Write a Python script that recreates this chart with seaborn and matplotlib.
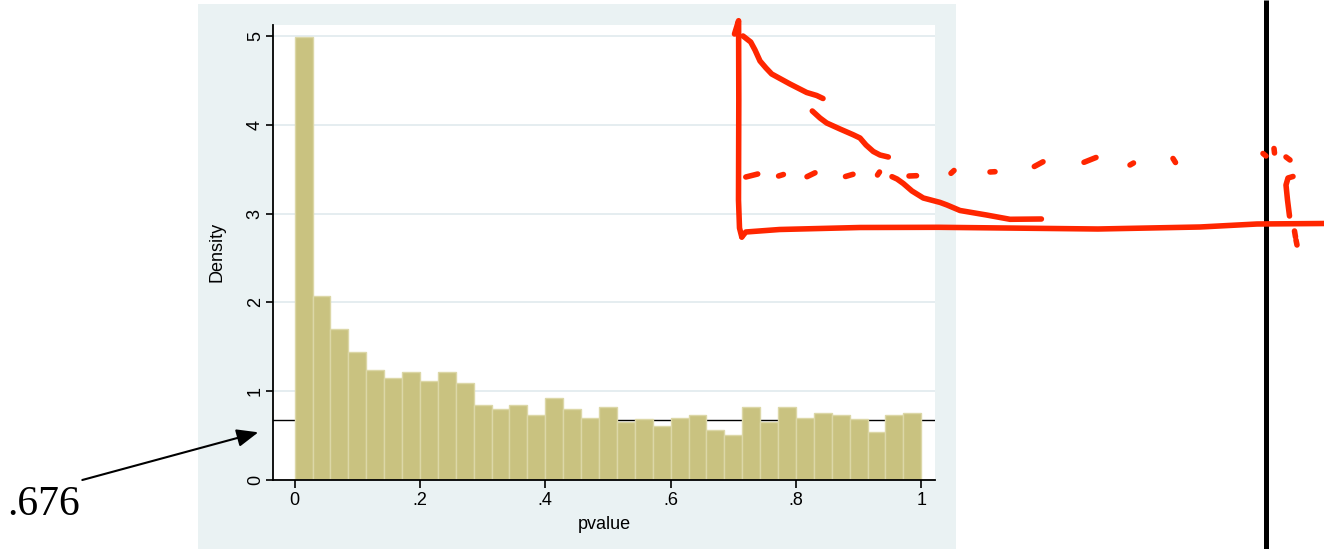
import numpy as np
import pandas as pd
import matplotlib
matplotlib.use('Agg')
import matplotlib.pyplot as plt
import seaborn as sns
from matplotlib.patches import Rectangle

# ---------------- data ----------------
density = [4.99, 2.07, 1.70, 1.44, 1.24, 1.15, 1.21, 1.11, 1.21, 1.09,
           0.845, 0.80, 0.845, 0.73, 0.92, 0.80, 0.69, 0.82,
           0.645, 0.68, 0.60, 0.69, 0.73, 0.56, 0.50, 0.82, 0.645, 0.82,
           0.69, 0.75, 0.73, 0.68, 0.54, 0.73, 0.75]
n_bins = 35
ref_value = 0.676
ref_label = '.676'
x_ticks = [0, 0.2, 0.4, 0.6, 0.8, 1.0]
x_ticklabels = ['0', '.2', '.4', '.6', '.8', '1']
y_ticks = [0, 1, 2, 3, 4, 5]
y_ticklabels = ['0', '1', '2', '3', '4', '5']
x_label = 'pvalue'
y_label = 'Density'

# hand-drawn annotation strokes (figure pixel coords, origin top-left)
red_axis_v = [(734.5, 34), (738.6, 20.7), (738.8, 100), (738.5, 200), (739.5, 228), (741.8, 237)]
red_axis_h = [(741.8, 237), (745.8, 232), (779.6, 229.5), (860, 227.5), (938.8, 227.3),
              (1097.9, 229), (1200, 227), (1257, 224), (1324, 223.5)]
red_curve1 = [(743, 36), (750.7, 42), (755, 50), (760, 61), (766, 68), (771.7, 74),
              (790, 84), (806.7, 92.5), (816.7, 95.5), (823, 98.5)]
red_curve2 = [(812.3, 111), (820, 118), (826.7, 123), (840, 129), (853.3, 134.8),
              (860, 138), (866, 145), (873.3, 151.5), (880, 155), (888.3, 157)]
red_curve3 = [(892, 176.7), (897, 179), (903.3, 183.5), (912, 191), (923.3, 198),
              (940, 202.4), (947, 205), (960, 210.5), (986.5, 215), (1010, 219.3), (1041.4, 219)]
red_dashes = [
    [(745.8, 177), (757.7, 174)],
    [(778.6, 176), (783.4, 174.5)],
    [(807, 176.7), (815, 172.8)],
    [(845.5, 176.5), (853, 174.3)],
    [(877.5, 175), (879.5, 172)],
    [(909, 176), (916.5, 175.7)],
    [(951, 173.3), (954, 170.5)],
    [(990, 172), (995, 171.7)],
    [(1034.3, 166.5), (1043, 161.8)],
    [(1084, 162.3), (1096, 157.5)],
    [(1130, 165), (1133.5, 163)],
    [(1173, 158.5), (1175.5, 162.5)],
    [(1263, 153.5), (1266, 156)],
    [(1274, 148.5), (1274.5, 153)],
    [(1286, 157), (1290, 160)],
    [(1293, 176.5), (1288, 178), (1286, 185), (1287.5, 200), (1289.5, 216)],
    [(1294.5, 231), (1295.5, 237)],
    [(1296, 240), (1297, 245)],
]
black_vline_x = 1265.8
arrow_start = (82.3, 480)
arrow_end = (258.3, 432.3)

# ---------------- style ----------------
sns.set_style('white')
plt.rcParams['font.family'] = ['Liberation Sans', 'DejaVu Sans']

W, H = 1324, 549
fig = plt.figure(figsize=(W / 100, H / 100), dpi=100)
fig.patch.set_facecolor('white')

panel = Rectangle((198 / W, 0), (956 - 198) / W, (H - 4) / H, transform=fig.transFigure,
                  facecolor='#EAF2F3', edgecolor='none', zorder=-10)
fig.add_artist(panel)

ax = fig.add_axes([273 / W, (H - 479.5) / H, 662 / W, 455 / H])
ax.set_facecolor('white')

bin_width = 1.0 / n_bins
centers = [(i + 0.5) * bin_width for i in range(n_bins)]
df = pd.DataFrame({'pvalue': centers, 'density': density})

sns.histplot(data=df, x='pvalue', weights='density', bins=n_bins, binrange=(0, 1),
             stat='count', color='#C9C280', edgecolor='#DCD7A7', linewidth=1.0,
             alpha=1, ax=ax, zorder=2)

ax.axhline(ref_value, color='black', lw=1.0, zorder=1)

ax.set_xlim(-0.0346, 1.022)
ax.set_ylim(0, 5.132)
ax.set_xticks(x_ticks)
ax.set_xticklabels(x_ticklabels)
ax.set_yticks(y_ticks)
ax.set_yticklabels(y_ticklabels, va='center')

ax.yaxis.grid(True, color='#E3ECEF', lw=1.3)
ax.xaxis.grid(False)
ax.set_axisbelow(True)

for s in ['top', 'right']:
    ax.spines[s].set_visible(False)
for s in ['left', 'bottom']:
    ax.spines[s].set_color('black')
    ax.spines[s].set_linewidth(1.3)

ax.tick_params(axis='x', bottom=True, direction='out', length=5.8, width=1.2,
               pad=3.5, labelsize=13, colors='black')
ax.tick_params(axis='y', left=True, direction='out', length=5, width=1.2,
               pad=1.6, labelsize=13, colors='black', labelrotation=90)

ax.set_xlabel(x_label, fontsize=13, color='black')
ax.xaxis.set_label_coords(0.5, -0.0802)
ax.set_ylabel(y_label, fontsize=13, color='black')
ax.yaxis.set_label_coords(-0.071, 0.5)

# ---------------- overlay annotations ----------------
ov = fig.add_axes([0, 0, 1, 1], zorder=10)
ov.set_xlim(0, W)
ov.set_ylim(H, 0)
ov.axis('off')
ov.patch.set_alpha(0)

ov.plot([black_vline_x, black_vline_x], [0, H], color='black', lw=3.6, solid_capstyle='butt')

red = '#FF2600'
for stroke in [red_axis_v, red_axis_h, red_curve1, red_curve2, red_curve3] + red_dashes:
    xs, ys = zip(*stroke)
    ov.plot(xs, ys, color=red, lw=4, solid_capstyle='round', solid_joinstyle='round')

ov.text(7, 515, ref_label, fontsize=30, family=['Liberation Serif', 'DejaVu Serif'],
        va='baseline', ha='left', color='black')
ov.annotate('', xy=arrow_end, xytext=arrow_start,
            arrowprops=dict(arrowstyle='-|>,head_length=0.65,head_width=0.27',
                            mutation_scale=20, color='black', lw=1.5,
                            shrinkA=0, shrinkB=0))

fig.savefig('out.png', dpi=100, facecolor='white')
